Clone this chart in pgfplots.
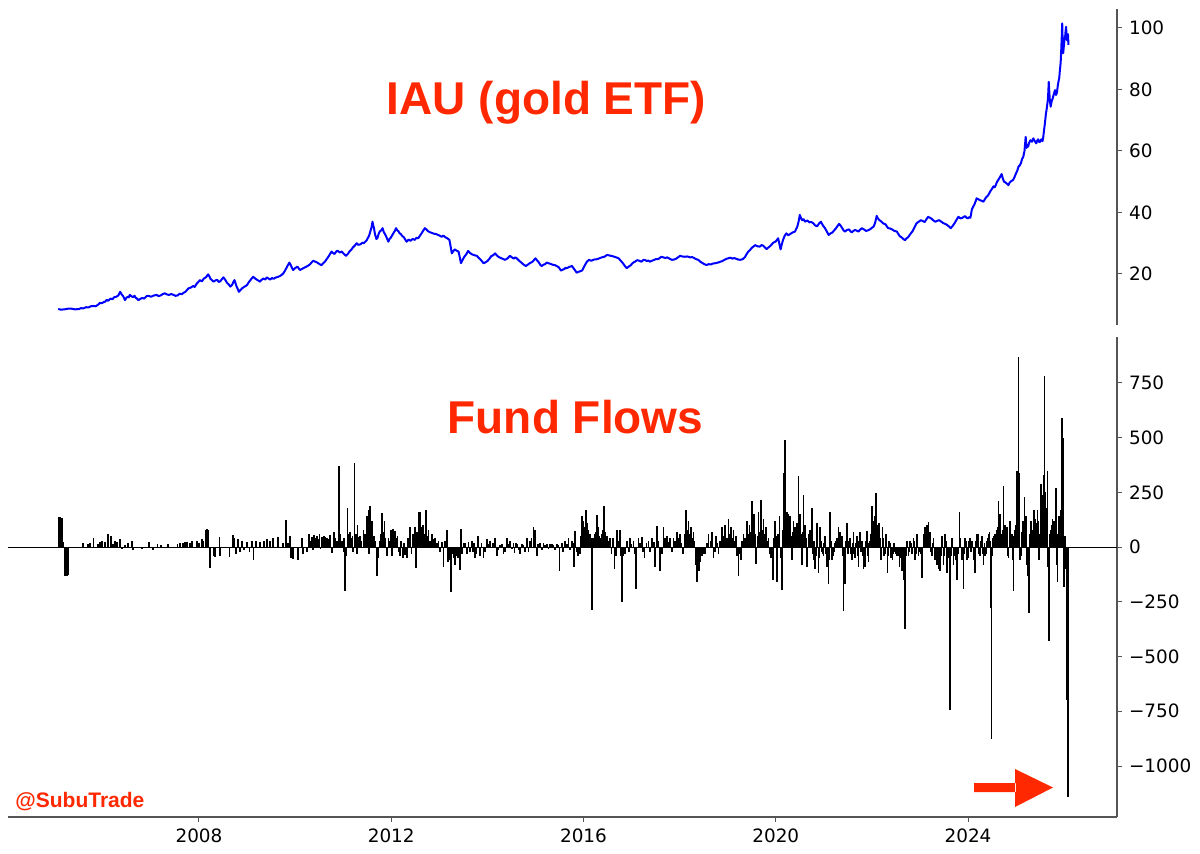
\documentclass[border=0pt]{standalone}
\usepackage{pgfplots}
\pgfplotsset{compat=1.18}
\usepackage{pgfplotstable}
\usepackage{fontspec}
\setmainfont{DejaVu Sans}
\newfontfamily\arialfont{Liberation Sans}
\definecolor{subured}{RGB}{255,40,0}
\definecolor{spinegray}{RGB}{85,85,85}

\pgfplotstableread{
yr price
2005.07 8.6
2005.13 8.4
2005.20 8.5
2005.27 8.7
2005.35 8.7
2005.42 8.5
2005.50 8.6
2005.55 8.9
2005.59 8.8
2005.65 9.2
2005.70 9.1
2005.75 9.5
2005.80 9.6
2005.85 9.5
2005.90 10.0
2005.94 10.6
2005.98 10.5
2006.02 10.9
2006.05 11.0
2006.08 11.6
2006.11 11.3
2006.16 12.0
2006.20 11.8
2006.24 12.5
2006.28 12.6
2006.32 13.0
2006.36 14.2
2006.39 13.4
2006.42 12.8
2006.44 12.2
2006.46 11.5
2006.49 12.3
2006.52 12.6
2006.54 12.4
2006.56 13.2
2006.60 12.7
2006.63 12.5
2006.66 12.9
2006.68 12.3
2006.71 12.0
2006.74 11.5
2006.78 11.9
2006.82 12.2
2006.86 12.0
2006.91 12.8
2006.95 12.9
2007.00 12.6
2007.06 13.0
2007.12 13.2
2007.16 12.8
2007.20 13.0
2007.25 13.5
2007.29 13.7
2007.34 13.3
2007.38 13.2
2007.42 13.5
2007.47 13.2
2007.51 12.9
2007.55 13.0
2007.60 13.6
2007.64 13.4
2007.68 13.9
2007.72 14.2
2007.75 14.8
2007.78 15.3
2007.83 15.6
2007.88 16.1
2007.91 15.8
2007.95 16.8
2007.98 17.3
2008.02 18.0
2008.06 17.6
2008.10 18.5
2008.15 19.0
2008.19 19.9
2008.22 19.1
2008.24 18.4
2008.27 18.0
2008.30 17.5
2008.34 17.9
2008.38 18.1
2008.41 17.4
2008.44 17.6
2008.48 18.4
2008.51 18.9
2008.55 18.0
2008.58 17.2
2008.62 16.6
2008.65 15.9
2008.68 16.3
2008.70 16.8
2008.72 17.6
2008.74 18.0
2008.76 17.0
2008.78 16.0
2008.81 15.0
2008.83 14.2
2008.87 14.9
2008.90 15.4
2008.95 15.9
2009.00 16.4
2009.03 17.2
2009.06 17.8
2009.10 18.6
2009.13 19.1
2009.17 18.5
2009.20 18.2
2009.24 17.8
2009.27 17.5
2009.30 18.1
2009.34 18.5
2009.38 18.2
2009.41 18.9
2009.45 18.5
2009.48 18.2
2009.52 18.7
2009.55 18.4
2009.59 18.8
2009.63 19.0
2009.68 19.3
2009.72 19.7
2009.76 20.3
2009.80 21.4
2009.84 22.6
2009.88 23.7
2009.91 22.9
2009.93 22.1
2009.96 21.3
2010.00 21.9
2010.05 22.4
2010.08 21.7
2010.10 21.3
2010.14 21.6
2010.17 21.9
2010.21 22.2
2010.25 22.5
2010.29 22.9
2010.32 23.3
2010.35 23.9
2010.38 24.3
2010.42 24.0
2010.45 23.8
2010.48 23.5
2010.50 23.3
2010.53 23.0
2010.55 22.9
2010.59 23.6
2010.62 24.0
2010.66 24.9
2010.70 25.8
2010.73 26.6
2010.76 27.3
2010.79 26.8
2010.82 26.5
2010.85 27.2
2010.88 27.6
2010.93 27.0
2010.97 27.3
2011.01 26.6
2011.06 25.9
2011.10 26.6
2011.14 27.5
2011.17 27.9
2011.20 28.6
2011.24 29.2
2011.28 30.0
2011.31 29.5
2011.35 29.6
2011.38 29.9
2011.40 30.2
2011.43 30.0
2011.46 30.5
2011.49 31.0
2011.52 31.9
2011.54 32.5
2011.56 33.6
2011.59 35.2
2011.61 37.0
2011.625 35.8
2011.64 35.0
2011.655 33.5
2011.67 32.5
2011.69 31.4
2011.71 31.6
2011.735 32.9
2011.76 33.8
2011.79 34.2
2011.82 34.9
2011.845 33.6
2011.87 33.0
2011.905 31.8
2011.94 30.5
2011.965 31.4
2011.99 31.8
2012.02 32.6
2012.05 33.4
2012.075 34.0
2012.10 34.9
2012.125 34.2
2012.15 33.9
2012.175 33.2
2012.20 33.0
2012.23 32.3
2012.26 32.0
2012.29 31.2
2012.32 30.5
2012.36 31.2
2012.40 30.8
2012.445 31.4
2012.49 31.1
2012.525 31.8
2012.56 31.6
2012.595 32.4
2012.63 33.2
2012.665 34.1
2012.70 34.9
2012.73 34.5
2012.76 34.0
2012.80 33.6
2012.84 33.4
2012.885 33.1
2012.93 33.0
2012.99 32.6
2013.05 32.1
2013.085 32.5
2013.12 32.0
2013.165 31.6
2013.21 31.1
2013.235 29.0
2013.26 26.7
2013.29 27.4
2013.32 28.0
2013.36 27.6
2013.40 27.3
2013.425 25.5
2013.45 23.5
2013.485 24.6
2013.52 25.6
2013.56 26.4
2013.60 27.5
2013.64 26.8
2013.68 26.4
2013.73 26.1
2013.78 25.9
2013.815 25.3
2013.85 24.8
2013.885 24.2
2013.92 23.5
2013.96 23.8
2014.00 24.2
2014.04 24.9
2014.08 25.8
2014.12 26.1
2014.16 26.7
2014.205 25.9
2014.25 25.4
2014.31 25.0
2014.37 24.6
2014.42 25.1
2014.47 25.9
2014.51 25.4
2014.55 25.0
2014.58 25.4
2014.61 25.1
2014.655 24.4
2014.70 23.8
2014.75 23.1
2014.80 22.6
2014.84 23.0
2014.88 23.5
2014.94 24.0
2015.00 25.1
2015.035 24.4
2015.07 23.8
2015.10 23.0
2015.13 22.6
2015.165 23.0
2015.20 23.2
2015.235 23.7
2015.27 23.5
2015.315 23.3
2015.36 23.0
2015.40 22.9
2015.44 22.6
2015.485 22.2
2015.53 21.1
2015.565 21.4
2015.60 21.6
2015.625 22.0
2015.65 21.9
2015.705 22.3
2015.76 22.6
2015.81 21.5
2015.86 20.4
2015.89 20.7
2015.92 20.8
2015.945 21.0
2015.97 21.1
2016.02 22.6
2016.07 24.0
2016.115 24.6
2016.16 24.3
2016.22 24.7
2016.28 24.8
2016.33 25.1
2016.38 25.4
2016.435 25.6
2016.49 26.2
2016.545 26.0
2016.60 25.8
2016.665 25.5
2016.73 25.1
2016.775 24.3
2016.82 23.5
2016.86 22.6
2016.90 21.9
2016.94 22.4
2016.98 22.8
2017.025 23.6
2017.07 24.0
2017.115 24.5
2017.16 24.3
2017.205 24.0
2017.25 24.6
2017.285 24.5
2017.32 24.2
2017.35 24.4
2017.38 24.0
2017.44 24.4
2017.50 24.8
2017.56 24.9
2017.62 25.6
2017.66 25.4
2017.70 25.2
2017.74 25.4
2017.78 25.1
2017.81 24.8
2017.84 24.6
2017.88 24.7
2017.92 24.9
2017.965 25.4
2018.01 25.9
2018.055 25.7
2018.10 25.6
2018.16 25.7
2018.22 25.4
2018.26 25.5
2018.30 25.2
2018.345 24.8
2018.39 24.6
2018.43 24.0
2018.47 23.6
2018.515 23.2
2018.56 22.9
2018.605 23.2
2018.65 23.1
2018.695 23.4
2018.74 23.5
2018.795 23.7
2018.85 24.0
2018.89 24.2
2018.93 24.6
2018.97 24.9
2019.01 25.1
2019.055 25.3
2019.10 25.0
2019.14 25.2
2019.18 24.9
2019.22 24.7
2019.26 24.6
2019.31 24.8
2019.36 25.5
2019.395 26.5
2019.43 27.3
2019.465 27.8
2019.50 28.5
2019.535 28.9
2019.57 29.4
2019.62 29.0
2019.67 28.9
2019.705 29.4
2019.74 29.2
2019.775 28.6
2019.81 28.1
2019.845 28.6
2019.88 29.0
2019.915 29.6
2019.95 30.2
2020.00 30.6
2020.05 31.6
2020.075 29.8
2020.10 28.0
2020.125 29.6
2020.15 31.0
2020.185 32.4
2020.22 33.2
2020.26 32.6
2020.30 33.0
2020.35 33.5
2020.40 33.8
2020.425 34.6
2020.45 35.5
2020.475 37.0
2020.50 39.2
2020.525 38.2
2020.55 37.5
2020.58 37.8
2020.61 37.0
2020.655 37.4
2020.70 36.8
2020.74 36.9
2020.78 36.5
2020.82 35.8
2020.86 35.5
2020.90 36.4
2020.94 37.0
2020.98 35.8
2021.02 35.0
2021.06 33.9
2021.10 32.7
2021.14 33.2
2021.18 33.5
2021.215 34.2
2021.25 34.8
2021.285 35.6
2021.32 36.3
2021.35 35.7
2021.38 35.0
2021.41 34.2
2021.44 33.8
2021.48 34.3
2021.52 34.5
2021.55 34.0
2021.58 33.5
2021.615 34.0
2021.65 34.3
2021.685 34.1
2021.72 33.8
2021.755 34.4
2021.79 34.9
2021.835 34.5
2021.88 34.0
2021.92 34.2
2021.96 34.5
2022.00 35.0
2022.04 35.5
2022.07 36.8
2022.10 38.9
2022.125 38.1
2022.15 37.6
2022.175 37.3
2022.20 37.0
2022.24 36.4
2022.28 36.2
2022.31 35.5
2022.34 34.9
2022.38 34.8
2022.42 34.5
2022.47 34.0
2022.52 33.8
2022.55 33.0
2022.58 32.3
2022.62 31.9
2022.66 31.3
2022.69 31.0
2022.72 31.6
2022.74 31.8
2022.76 32.1
2022.805 33.1
2022.85 34.0
2022.89 35.3
2022.93 36.5
2022.975 37.0
2023.02 37.5
2023.06 37.2
2023.10 36.9
2023.135 37.8
2023.17 38.6
2023.205 38.3
2023.24 38.0
2023.28 37.4
2023.32 37.0
2023.36 37.3
2023.40 37.5
2023.445 37.0
2023.49 36.5
2023.525 36.3
2023.56 36.0
2023.60 35.5
2023.64 34.9
2023.68 35.6
2023.72 36.5
2023.76 37.6
2023.80 38.6
2023.84 38.1
2023.88 38.2
2023.91 38.6
2023.94 38.8
2023.97 38.3
2024.00 38.1
2024.025 38.5
2024.05 38.3
2024.065 39.6
2024.08 41.0
2024.105 41.8
2024.13 42.5
2024.155 43.5
2024.18 44.6
2024.215 44.3
2024.25 44.0
2024.285 43.8
2024.32 43.5
2024.35 44.3
2024.38 45.0
2024.42 45.6
2024.46 46.8
2024.495 47.6
2024.53 48.5
2024.555 48.2
2024.58 49.0
2024.605 50.0
2024.63 50.6
2024.665 51.5
2024.70 52.5
2024.725 51.0
2024.75 50.0
2024.775 49.8
2024.80 49.5
2024.82 49.2
2024.84 48.9
2024.87 49.8
2024.90 50.2
2024.92 50.4
2024.94 50.6
2024.97 51.6
2025.00 52.8
2025.025 53.6
2025.05 54.9
2025.075 55.3
2025.10 56.0
2025.125 57.4
2025.15 58.1
2025.175 60.0
2025.20 64.6
2025.21 62.5
2025.22 61.0
2025.235 62.0
2025.25 61.4
2025.275 62.8
2025.30 63.5
2025.33 63.0
2025.36 64.1
2025.39 63.2
2025.42 62.5
2025.44 63.4
2025.46 63.8
2025.48 62.9
2025.50 63.0
2025.525 63.8
2025.55 63.2
2025.565 64.5
2025.58 66.5
2025.60 69.0
2025.62 72.0
2025.64 74.0
2025.66 76.5
2025.67 79.0
2025.68 82.5
2025.69 79.5
2025.70 77.0
2025.71 75.5
2025.72 74.4
2025.74 76.2
2025.76 77.0
2025.785 78.5
2025.81 79.8
2025.83 78.2
2025.85 79.0
2025.86 80.2
2025.87 81.5
2025.885 82.8
2025.90 84.0
2025.91 86.0
2025.92 87.4
2025.93 89.5
2025.94 93.0
2025.95 97.0
2025.96 101.5
2025.97 95.0
2025.98 91.8
2025.99 93.5
2026.00 95.0
2026.01 96.5
2026.02 97.0
2026.03 99.0
2026.04 100.4
2026.05 98.0
2026.06 96.0
2026.07 97.5
2026.08 98.0
2026.09 94.5
}\pricetable

\pgfplotstableread{
yr flow
2005.074 135
2005.084 137
2005.094 138
2005.104 136
2005.115 136
2005.125 135
2005.136 134
2005.146 133
2005.157 132
2005.178 22
2005.205 -130
2005.215 -131
2005.226 -132
2005.236 -131
2005.247 -130
2005.257 -129
2005.268 -128
2005.580 20
2005.684 12
2005.732 18
2005.802 40
2005.892 15
2005.940 25
2005.989 30
2006.045 25
2006.100 61
2006.163 50
2006.204 15
2006.253 30
2006.301 25
2006.357 35
2006.391 -10
2006.460 10
2006.530 20
2006.600 30
2006.620 -15
2006.807 -8
2006.960 25
2007.050 -12
2007.134 15
2007.203 10
2007.362 15
2007.550 12
2007.605 20
2007.660 18
2007.709 22
2007.757 25
2007.813 20
2007.848 30
2007.952 30
2008.007 20
2008.056 35
2008.090 28
2008.146 80
2008.160 81
2008.174 80
2008.187 79
2008.200 78
2008.230 -95
2008.299 -40
2008.334 -45
2008.424 45
2008.438 -40
2008.632 -45
2008.701 55
2008.729 40
2008.770 -30
2008.805 35
2008.853 -20
2008.888 30
2008.937 -15
2008.992 25
2009.048 -20
2009.096 30
2009.131 -60
2009.186 30
2009.270 25
2009.353 30
2009.408 35
2009.478 30
2009.547 40
2009.651 45
2009.741 20
2009.803 122
2009.845 20
2009.894 50
2009.908 -50
2009.963 -55
2010.067 -60
2010.137 40
2010.158 -30
2010.241 -20
2010.296 60
2010.345 45
2010.394 55
2010.449 50
2010.505 60
2010.553 45
2010.602 50
2010.657 40
2010.726 55
2010.810 70
2010.865 30
2010.914 370
2010.969 30
2011.004 -20
2011.045 -200
2011.087 180
2011.142 70
2011.191 50
2011.233 385
2011.281 -30
2011.295 100
2011.350 50
2011.420 80
2011.489 140
2011.524 170
2011.559 190
2011.593 120
2011.642 50
2011.697 -130
2011.753 30
2011.802 155
2011.857 120
2011.905 -40
2011.940 40
2011.988 80
2012.030 85
2012.078 75
2012.127 50
2012.183 -40
2012.238 -50
2012.287 -35
2012.321 -50
2012.391 90
2012.446 60
2012.495 90
2012.509 -95
2012.564 160
2012.599 160
2012.634 90
2012.717 170
2012.773 80
2012.842 60
2012.911 40
2012.981 30
2013.050 25
2013.085 -90
2013.154 80
2013.175 -70
2013.223 -60
2013.244 -205
2013.293 -50
2013.362 -40
2013.431 -105
2013.452 85
2013.501 20
2013.570 -30
2013.605 25
2013.674 30
2013.695 -20
2013.744 -50
2013.799 50
2013.848 -40
2013.917 -50
2013.986 35
2014.056 30
2014.160 40
2014.194 -40
2014.264 10
2014.333 -30
2014.403 40
2014.472 30
2014.541 20
2014.562 -25
2014.611 15
2014.680 -30
2014.749 10
2014.819 40
2014.853 -20
2014.888 30
2014.957 90
2014.992 80
2015.027 -40
2015.096 20
2015.165 20
2015.235 15
2015.304 15
2015.374 10
2015.443 15
2015.498 -110
2015.547 20
2015.616 30
2015.686 40
2015.755 30
2015.804 -90
2015.824 75
2015.859 -20
2015.928 -30
2015.963 140
2015.998 120
2016.053 170
2016.102 80
2016.150 40
2016.178 -285
2016.227 60
2016.275 145
2016.331 50
2016.379 60
2016.428 190
2016.483 50
2016.553 40
2016.643 -100
2016.692 80
2016.761 80
2016.796 -250
2016.830 -40
2016.900 30
2016.969 40
2017.038 30
2017.094 -190
2017.142 40
2017.212 45
2017.267 -50
2017.350 30
2017.420 40
2017.489 -90
2017.524 95
2017.593 -110
2017.662 90
2017.732 50
2017.801 40
2017.871 40
2017.940 70
2018.009 60
2018.065 -30
2018.134 170
2018.183 120
2018.238 90
2018.287 70
2018.335 -80
2018.356 -160
2018.405 -110
2018.460 -40
2018.530 -30
2018.599 60
2018.668 70
2018.703 -50
2018.758 50
2018.807 -30
2018.876 90
2018.945 100
2019.015 130
2019.070 90
2019.119 80
2019.175 50
2019.223 -130
2019.272 -60
2019.327 60
2019.397 120
2019.452 100
2019.501 210
2019.549 150
2019.591 -75
2019.639 160
2019.688 215
2019.743 130
2019.799 90
2019.847 40
2019.896 -50
2019.937 -150
2019.986 120
2020.021 -160
2020.076 140
2020.124 -195
2020.159 337
2020.193 490
2020.228 160
2020.263 150
2020.297 140
2020.332 -60
2020.367 120
2020.401 90
2020.436 110
2020.471 325
2020.505 150
2020.540 -80
2020.575 240
2020.609 100
2020.644 -90
2020.679 60
2020.713 80
2020.748 180
2020.783 -60
2020.817 -100
2020.852 110
2020.887 -120
2020.921 90
2020.956 -20
2020.991 -40
2021.025 50
2021.060 -90
2021.095 -170
2021.129 160
2021.164 -60
2021.199 -40
2021.234 20
2021.268 40
2021.303 90
2021.338 70
2021.372 50
2021.407 -290
2021.442 -170
2021.476 110
2021.511 -30
2021.546 40
2021.580 -60
2021.615 70
2021.650 -50
2021.684 50
2021.719 -90
2021.754 70
2021.788 30
2021.823 -100
2021.858 -90
2021.892 75
2021.927 -70
2021.962 30
2021.997 190
2022.031 120
2022.066 140
2022.087 245
2022.115 100
2022.149 110
2022.184 -60
2022.219 90
2022.253 -40
2022.288 60
2022.323 -120
2022.357 30
2022.392 -50
2022.427 -60
2022.461 20
2022.517 -40
2022.572 -90
2022.621 -110
2022.655 -150
2022.690 -375
2022.725 30
2022.760 -40
2022.794 30
2022.829 -30
2022.864 40
2022.898 -60
2022.933 60
2022.968 -40
2023.002 -20
2023.037 -140
2023.072 40
2023.106 90
2023.141 100
2023.176 115
2023.210 70
2023.245 -40
2023.280 40
2023.314 -60
2023.349 -80
2023.384 -100
2023.418 -110
2023.453 50
2023.488 -80
2023.522 60
2023.557 -120
2023.592 -40
2023.626 -745
2023.661 40
2023.696 -80
2023.731 -40
2023.765 -150
2023.821 160
2023.869 -60
2023.904 -190
2023.939 40
2023.973 -60
2024.008 -50
2024.043 40
2024.077 30
2024.112 -60
2024.147 -120
2024.181 60
2024.216 60
2024.251 -40
2024.285 50
2024.320 -80
2024.355 -40
2024.389 30
2024.424 60
2024.445 70
2024.473 -280
2024.487 -875
2024.514 40
2024.563 60
2024.598 80
2024.632 210
2024.667 150
2024.702 60
2024.736 280
2024.771 100
2024.806 90
2024.840 -50
2024.875 120
2024.910 60
2024.944 -200
2024.979 80
2025.014 347
2025.049 868
2025.069 340
2025.097 -40
2025.132 100
2025.173 230
2025.208 140
2025.243 -130
2025.271 -300
2025.305 120
2025.340 80
2025.375 170
2025.409 110
2025.444 170
2025.479 -60
2025.513 290
2025.548 240
2025.569 330
2025.589 780
2025.617 160
2025.652 350
2025.687 -430
2025.721 80
2025.756 130
2025.791 120
2025.825 270
2025.860 -160
2025.895 140
2025.930 170
2025.950 590
2025.978 500
2025.999 -180
2026.020 50
2026.041 -80
2026.055 -700
2026.075 -1140
}\flowtable

\pgfplotstableread{
yr flow
2010.32 30
2010.37 -15
2010.42 40
2010.48 35
2010.53 -10
2010.58 30
2010.63 45
2010.69 35
2010.76 -25
2010.84 40
2010.89 25
2010.94 60
2011.02 40
2011.07 -40
2011.11 60
2011.16 40
2011.21 -20
2011.26 60
2011.31 45
2011.38 30
2011.45 60
2011.51 100
2011.54 -30
2011.575 80
2011.62 40
2011.67 30
2011.72 -50
2011.78 60
2011.83 70
2011.88 40
2011.96 30
2012.01 -40
2012.05 50
2012.10 40
2012.15 -20
2012.21 30
2012.26 20
2012.35 40
2012.42 -30
2012.47 40
2012.53 70
2012.58 60
2012.62 40
2012.66 100
2012.69 60
2012.74 50
2012.80 30
2012.87 35
2012.95 20
2013.02 -20
2013.12 30
2013.20 -40
2013.27 -30
2013.32 -80
2013.39 -50
2013.47 -30
2013.54 20
2013.64 -20
2013.72 20
2013.77 -30
2013.88 20
2013.95 -20
2014.02 15
2014.11 20
2014.23 -15
2014.30 15
2014.37 -20
2014.44 15
2014.51 -10
2014.59 20
2014.65 -15
2014.72 15
2014.79 -20
2014.92 40
2015.06 15
2015.13 -15
2015.20 10
2015.27 -10
2015.34 15
2015.41 -15
2015.47 10
2015.58 -20
2015.65 15
2015.72 -15
2015.78 20
2015.89 -40
2015.94 50
2015.98 60
2016.03 90
2016.08 110
2016.13 60
2016.20 40
2016.25 70
2016.30 90
2016.35 40
2016.40 80
2016.46 70
2016.52 30
2016.58 -30
2016.62 40
2016.67 -40
2016.73 30
2016.78 -40
2016.86 -30
2016.94 -20
2017.00 15
2017.07 -30
2017.17 20
2017.24 -20
2017.31 20
2017.39 -20
2017.46 25
2017.56 30
2017.63 -30
2017.70 40
2017.77 25
2017.84 -20
2017.91 30
2017.98 40
2018.04 20
2018.10 60
2018.16 80
2018.21 60
2018.26 40
2018.31 30
2018.38 -60
2018.43 -70
2018.49 -30
2018.57 20
2018.64 30
2018.73 -20
2018.78 20
2018.84 30
2018.91 50
2018.98 40
2019.04 60
2019.10 40
2019.15 30
2019.20 -40
2019.25 -30
2019.30 30
2019.36 40
2019.42 60
2019.48 70
2019.525 80
2019.57 60
2019.62 50
2019.66 70
2019.71 80
2019.77 60
2019.82 30
2019.87 -30
2019.92 -40
2019.96 40
2020.00 50
2020.05 60
2020.10 -50
2020.14 80
2020.175 120
2020.21 90
2020.245 70
2020.28 60
2020.315 50
2020.35 70
2020.385 60
2020.42 80
2020.455 100
2020.49 90
2020.52 60
2020.56 70
2020.59 50
2020.63 40
2020.66 -30
2020.70 30
2020.73 40
2020.77 -30
2020.80 30
2020.835 -40
2020.87 40
2020.905 -50
2020.94 30
2020.975 -30
2021.01 20
2021.04 -30
2021.08 -40
2021.11 -60
2021.15 30
2021.18 -30
2021.22 -20
2021.25 30
2021.285 20
2021.32 40
2021.355 30
2021.39 -40
2021.425 -60
2021.46 30
2021.49 -30
2021.53 30
2021.56 -30
2021.60 20
2021.63 -30
2021.67 20
2021.70 -40
2021.735 30
2021.77 -20
2021.805 -40
2021.84 -30
2021.875 30
2021.91 -40
2021.945 20
2021.98 60
2022.01 80
2022.05 70
2022.10 60
2022.13 50
2022.165 40
2022.20 -30
2022.235 40
2022.27 -30
2022.305 30
2022.34 -40
2022.375 20
2022.41 -30
2022.44 -30
2022.48 -20
2022.50 -30
2022.54 -40
2022.59 -50
2022.64 -60
2022.67 -80
2022.705 -40
2022.74 20
2022.78 -20
2022.81 20
2022.845 -30
2022.88 30
2022.915 -30
2022.95 30
2022.985 -20
2023.02 -30
2023.055 -40
2023.09 60
2023.125 50
2023.16 60
2023.19 40
2023.23 -20
2023.26 20
2023.30 -40
2023.33 -30
2023.365 -50
2023.40 -60
2023.435 -40
2023.47 30
2023.505 -40
2023.54 30
2023.575 -60
2023.61 -50
2023.645 -40
2023.68 30
2023.715 -40
2023.75 -60
2023.79 -30
2023.84 40
2023.885 -40
2023.92 -30
2023.955 30
2023.99 -30
2024.025 30
2024.06 -20
2024.095 20
2024.13 -40
2024.165 30
2024.20 40
2024.235 -30
2024.27 30
2024.305 -30
2024.34 20
2024.37 -30
2024.405 40
2024.46 30
2024.50 -40
2024.53 50
2024.58 40
2024.615 90
2024.65 70
2024.685 50
2024.72 80
2024.755 60
2024.79 50
2024.82 -40
2024.86 60
2024.89 40
2024.925 -60
2024.96 50
2024.995 100
2025.03 150
2025.06 120
2025.085 -60
2025.115 70
2025.15 120
2025.19 90
2025.225 -80
2025.26 -100
2025.29 60
2025.32 90
2025.36 100
2025.39 130
2025.425 90
2025.46 120
2025.495 60
2025.53 150
2025.56 180
2025.58 200
2025.60 250
2025.635 180
2025.67 -90
2025.70 60
2025.74 100
2025.775 90
2025.81 80
2025.84 -80
2025.875 60
2025.91 100
2025.94 170
2025.965 200
2025.99 -60
2026.01 -40
2026.03 -100
2026.048 -150
2026.065 -200
}\flowtableB

\begin{document}
\begin{tikzpicture}[x=1pt,y=1pt]
\useasboundingbox (0,0) rectangle (600,426.5);

\begin{axis}[
  at={(3.85pt,264pt)}, anchor=south west,
  width=554.65pt, height=158pt, scale only axis,
  xmin=2004.02, xmax=2027.1, ymin=3.41, ymax=106.18,
  axis x line=none, axis y line*=right,
  ytick={20,40,60,80,100},
  yticklabel pos=right,
  tick align=outside, major tick length=2.5pt,
  every tick/.style={spinegray, line width=0.5pt},
  axis line style={spinegray, line width=0.6pt},
  yticklabel style={font=\fontsize{9.2}{10}\selectfont, /pgf/number format/assume math mode=true},
]
\addplot[blue, line width=1pt, mark=none, line join=round] table[x=yr, y=price] {\pricetable};
\end{axis}

\begin{axis}[
  at={(3.85pt,18pt)}, anchor=south west,
  width=554.65pt, height=240pt, scale only axis,
  xmin=2004.02, xmax=2027.1, ymin=-1233, ymax=960,
  axis x line*=bottom, axis y line*=right,
  xtick={2008,2012,2016,2020,2024},
  xticklabels={2008,2012,2016,2020,2024},
  ytick={-1000,-750,-500,-250,0,250,500,750},
  yticklabels={−1000,−750,−500,−250,0,250,500,750},
  yticklabel pos=right,
  tick align=outside, major tick length=2.5pt,
  every tick/.style={spinegray, line width=0.5pt},
  axis line style={spinegray, line width=0.6pt},
  ticklabel style={font=\fontsize{9.2}{10}\selectfont},
]
\addplot[black, line width=0.6pt, mark=none] coordinates {(2004.02,0) (2027.1,0)};
\addplot[ycomb, black, line width=0.85pt, mark=none] table[x=yr, y=flow] {\flowtable};
\addplot[ycomb, black, line width=0.85pt, mark=none] table[x=yr, y=flow] {\flowtableB};
\end{axis}

\node[font=\arialfont\bfseries\fontsize{23}{27}\selectfont, text=subured, anchor=base, inner sep=0pt] at (273.25,369) {IAU (gold ETF)};
\node[font=\arialfont\bfseries\fontsize{23}{27}\selectfont, text=subured, anchor=base, inner sep=0pt] at (287.75,210) {Fund Flows};
\node[font=\arialfont\bfseries\fontsize{10.5}{12}\selectfont, text=subured, anchor=base west, inner sep=0pt] at (7.5,23) {@SubuTrade};
\fill[subured] (487,30.5) rectangle (508,35) (507.5,42) -- (507.5,23) -- (526.5,32.75) -- cycle;
\end{tikzpicture}
\end{document}
